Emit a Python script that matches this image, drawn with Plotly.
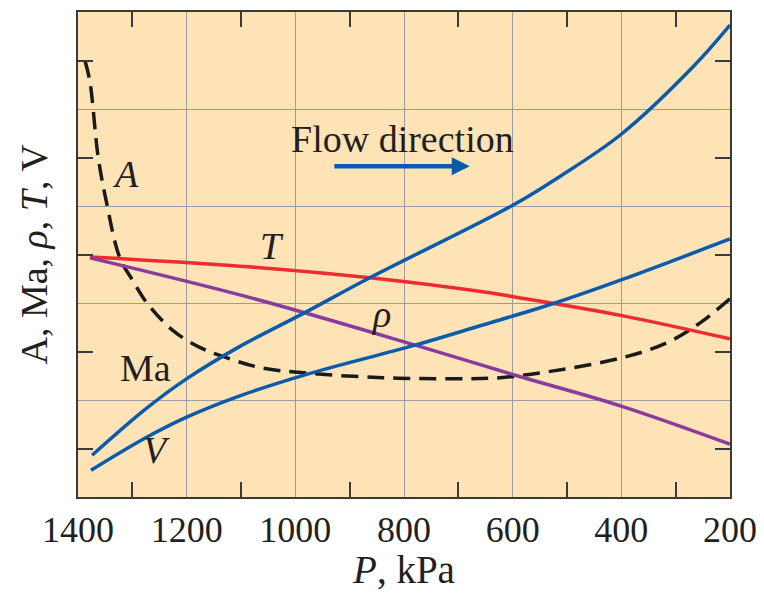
import plotly.graph_objects as go

# Data (P in kPa, y in arbitrary units 0..10)
T_P = [1378, 1102, 863, 642, 599, 399, 200]
T_y = [4.95, 4.76, 4.52, 4.21, 4.13, 3.74, 3.26]

rho_P = [1378, 1083, 776, 592, 399, 200]
rho_y = [4.93, 4.11, 3.12, 2.50, 1.87, 1.09]

Ma_P = [1374, 1277, 1201, 1106, 986, 863, 599, 513, 399, 268, 200]
Ma_y = [0.86, 1.80, 2.43, 3.08, 3.78, 4.52, 6.02, 6.61, 7.49, 8.87, 9.73]

V_P = [1376, 1277, 1201, 1106, 973, 783, 660, 522, 399, 200]
V_y = [0.55, 1.21, 1.64, 2.07, 2.55, 3.12, 3.53, 4.00, 4.48, 5.32]

A_P = [1387, 1378, 1363, 1348, 1323, 1299, 1273, 1225, 1175, 1139, 1065, 973, 839, 715, 623, 531, 399, 316, 255, 200]
A_y = [8.99, 8.56, 7.02, 6.10, 4.93, 4.46, 4.00, 3.43, 3.08, 2.92, 2.67, 2.55, 2.46, 2.44, 2.46, 2.59, 2.87, 3.18, 3.59, 4.09]

x_ticks = [1400, 1200, 1000, 800, 600, 400, 200]
x_labels = ["1400", "1200", "1000", "800", "600", "400", "200"]

BLUE = "#0a5bab"
RED = "#ee2b2e"
PURPLE = "#8a3b9e"
BG = "#fde3b6"
GRID = "#9c9c9c"
TXT = "#231f20"
AX = "#3a3a3a"
FONT = "Liberation Serif"

fig = go.Figure()
fig.add_trace(go.Scatter(x=A_P, y=A_y, mode="lines",
                         line=dict(color="#1a1a1a", width=3.5, dash="17px,9px", shape="spline", smoothing=1.0)))
fig.add_trace(go.Scatter(x=T_P, y=T_y, mode="lines", line=dict(color=RED, width=3.5, shape="spline", smoothing=1.0)))
fig.add_trace(go.Scatter(x=rho_P, y=rho_y, mode="lines", line=dict(color=PURPLE, width=3.5, shape="spline", smoothing=1.0)))
fig.add_trace(go.Scatter(x=V_P, y=V_y, mode="lines", line=dict(color=BLUE, width=3.5, shape="spline", smoothing=1.0)))
fig.add_trace(go.Scatter(x=Ma_P, y=Ma_y, mode="lines", line=dict(color=BLUE, width=3.5, shape="spline", smoothing=1.0)))

axis_common = dict(showline=True, linecolor=AX, linewidth=2, mirror="allticks",
                   gridcolor=GRID, gridwidth=1, zeroline=False)

fig.update_xaxes(range=[1400, 200], tickvals=x_ticks, ticktext=x_labels, ticks="",
                 showgrid=True, ticklabeloverflow="allow",
                 minor=dict(tick0=1300, dtick=200, ticks="inside", ticklen=15, tickwidth=2,
                            tickcolor=AX, showgrid=False),
                 tickfont=dict(family=FONT, size=36, color=TXT),
                 title=dict(text="<i>P</i>, kPa", font=dict(family=FONT, size=39, color=TXT), standoff=6),
                 **axis_common)
fig.update_yaxes(range=[0, 10], tickvals=[2, 4, 6, 8], showticklabels=False, ticks="",
                 showgrid=True,
                 minor=dict(tick0=1, dtick=2, ticks="inside", ticklen=15, tickwidth=2,
                            tickcolor=AX, showgrid=False),
                 **axis_common)

ann_font = dict(family=FONT, size=38, color=TXT)
anns = [
    dict(x=1312, y=6.65, text="<i>A</i>"),
    dict(x=1043, y=5.17, text="<i>T</i>"),
    dict(x=842, y=3.78, text="<i>ρ</i>"),
    dict(x=1275, y=2.67, text="Ma"),
    dict(x=1255, y=0.97, text="<i>V</i>"),
    dict(x=802, y=7.39, text="Flow direction"),
]
for a in anns:
    fig.add_annotation(x=a["x"], y=a["y"], text=a["text"], showarrow=False, font=ann_font,
                       xref="x", yref="y")

fig.add_annotation(x=679, y=6.82, ax=931, ay=6.82, xref="x", yref="y", axref="x", ayref="y",
                   text="", showarrow=True, arrowhead=2, arrowsize=0.8, arrowwidth=4.5, arrowcolor=BLUE)

fig.add_annotation(xref="paper", yref="paper", x=0, y=0.5, xanchor="center", yanchor="middle",
                   xshift=-45, yshift=0,
                   text="A, Ma, <i>ρ</i>, <i>T</i>, V", textangle=-90,
                   showarrow=False, font=ann_font)

# page body has an 8px margin; size the figure so the plot area lands where the reference has it
fig.update_layout(width=756, height=583, showlegend=False,
                  margin=dict(l=70, r=34, t=2, b=94),
                  plot_bgcolor=BG, paper_bgcolor="white")

fig.write_html("out.html")
